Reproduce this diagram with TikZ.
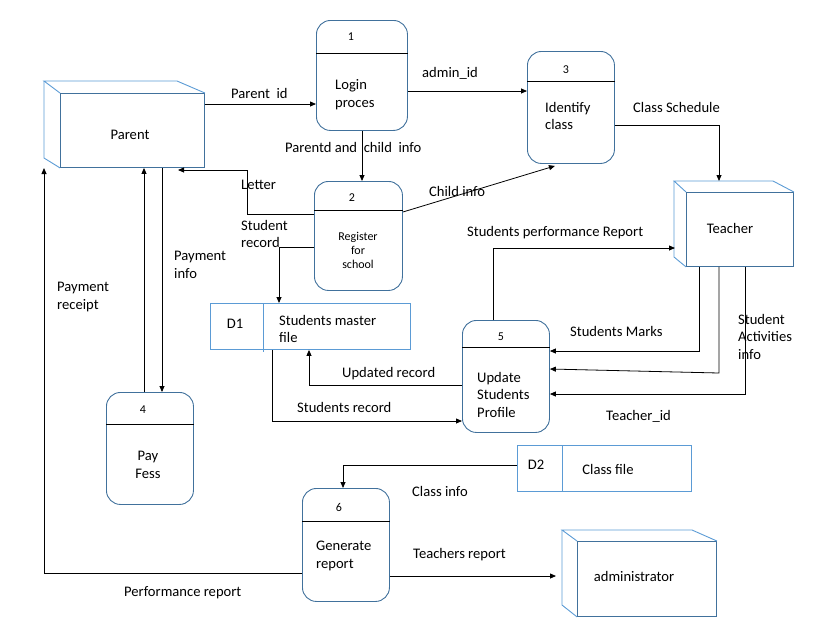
\documentclass[tikz,border=0pt]{standalone}
\usepackage{fontspec}
\setmainfont{Carlito}
\usetikzlibrary{arrows.meta}
\definecolor{pb}{HTML}{41719C}
\definecolor{lb}{HTML}{5B9BD5}
\begin{document}
\begin{tikzpicture}[x=1pt,y=-1pt,
  font=\fontsize{14.6}{17.8}\selectfont,
  proc/.style={draw=pb, rounded corners=14pt, anchor=north west, inner sep=0pt, line width=0.9pt},
  ent/.style={draw=pb, anchor=north west, inner sep=0pt, line width=0.9pt},
  back/.style={draw=lb, line width=0.9pt},
  store/.style={draw=lb, anchor=north west, inner sep=0pt, line width=0.9pt},
  divline/.style={draw=black, line width=0.8pt},
  flow/.style={draw=black, line width=0.8pt, -{Triangle[length=6pt,width=5pt]}},
  lbl/.style={anchor=west, inner sep=0pt, align=left, yshift=-2.5pt, execute at begin node={\strut}, execute at end node={\strut}},
  num/.style={inner sep=0pt, font=\fontsize{12}{14}\selectfont},
  small/.style={inner sep=0pt, align=center, font=\fontsize{12}{14}\selectfont}]
\useasboundingbox (0,0) rectangle (827,641);

% ---------- external entities ----------
\node[ent, minimum width=144pt, minimum height=74pt] (parent) at (60,93) {};
\node[inner sep=0pt] (parentt) at (130,135) {Parent};
\draw[back] (parent.north west) -- (44,81) -- (177,81) -- (parent.north east);
\draw[back] (44,81) -- (44,158) -- (parent.south west);

\node[ent, minimum width=107pt, minimum height=74pt] (teacher) at (686,192) {};
\node[inner sep=0pt] (teachert) at (730,228) {Teacher};
\draw[back] (teacher.north west) -- (674,181) -- (773,181) -- (teacher.north east);
\draw[back] (674,181) -- (674,257) -- (teacher.south west);

\node[ent, minimum width=139pt, minimum height=75pt] (admin) at (577,541) {};
\node[inner sep=0pt] (admint) at (634,576) {administrator};
\draw[back] (admin.north west) -- (562,530) -- (692,530) -- (admin.north east);
\draw[back] (562,530) -- (562,605) -- (admin.south west);

% ---------- processes ----------
\node[proc, minimum width=91pt, minimum height=110pt] (p1) at (316,20) {};
\draw[divline] (p1.west |- 0,53) -- (p1.east |- 0,53);
\node[num] (n1) at (351,37) {1};
\node[lbl] (t1) at (335,93.5) {Login\\proces};

\node[proc, minimum width=88pt, minimum height=109pt] (p2) at (314,181) {};
\draw[divline] (p2.west |- 0,210) -- (p2.east |- 0,210);
\node[num] (n2) at (352,198) {2};
\node[small] (t2) at (358,250) {Register\\for\\school};

\node[proc, minimum width=87pt, minimum height=112pt] (p3) at (527,51) {};
\draw[divline] (p3.west |- 0,81) -- (p3.east |- 0,81);
\node[num] (n3) at (566,70) {3};
\node[lbl] (t3) at (545,116) {Identify\\class};

\node[proc, minimum width=87pt, minimum height=112pt] (p4) at (106,392) {};
\draw[divline] (p4.west |- 0,424) -- (p4.east |- 0,424);
\node[num] (n4) at (143,410) {4};
\node[inner sep=0pt, align=center] (t4) at (148,465) {Pay\\Fess};

\node[proc, minimum width=87pt, minimum height=112pt] (p5) at (462,320) {};
\draw[divline] (p5.west |- 0,347) -- (p5.east |- 0,347);
\node[num] (n5) at (501,337) {5};
\node[lbl] (t5) at (477,395) {Update\\Students\\Profile};

\node[proc, minimum width=87pt, minimum height=113pt] (p6) at (302,488) {};
\draw[divline] (p6.west |- 0,521) -- (p6.east |- 0,521);
\node[num] (n6) at (339,507) {6};
\node[lbl] (t6) at (316,555) {Generate\\report};

% ---------- data stores ----------
\node[store, minimum width=200pt, minimum height=46pt] (d1) at (210,303) {};
\draw[draw=lb, line width=0.9pt] (263,303) -- (263,352);
\node[inner sep=0pt] (d1a) at (235,324) {D1};
\node[lbl] (d1b) at (279,329) {Students master\\file};

\node[store, minimum width=174pt, minimum height=46pt] (d2) at (517,445) {};
\draw[draw=lb, line width=0.9pt] (562,445) -- (562,491);
\node[inner sep=0pt] (d2a) at (536,465) {D2};
\node[inner sep=0pt] (d2b) at (608,469) {Class file};

% ---------- helper coordinates ----------
\coordinate (tt) at (719,181);
\coordinate (pl) at (178,170);
\coordinate (pr) at (44,168);
\coordinate (tl) at (675,248);
\coordinate (ad) at (556,576);

% ---------- flows ----------
\draw[flow] (parent.east |- 0,104) -- (p1.west |- 0,104);
\draw[flow] (p1.east |- 0,91) -- (p3.west |- 0,91);
\draw[flow] (p3.east |- 0,125) -- (719,125) -- (tt);
\draw[flow] (362,0 |- p1.south) -- (362,0 |- p2.north);
\draw[flow] (p2.east |- 0,212) -- ([xshift=-16pt,yshift=-2pt]p3.south);
\draw[flow] (p2.west |- 0,214) -- (247,214) -- (247,170) -- (pl);
\draw[flow] (p2.west |- 0,247) -- (279,247) -- (279,0 |- d1.north);
\draw[flow] (162,0 |- parent.south) -- (162,0 |- p4.north);
\draw[flow] (144,0 |- p4.north) -- (144,0 |- parent.south);
\draw[flow] (p6.west |- 0,573) -- (44,573) -- (pr);
\draw[flow] (493,0 |- p5.north) -- (493,248) -- (tl);
\draw[flow] (699,0 |- teacher.south) -- (699,351) -- (p5.east |- 0,351);
\draw[flow] (719,0 |- teacher.south) -- (719,373) -- (p5.east |- 0,369);
\draw[flow] (745,0 |- teacher.south) -- (745,394) -- (p5.east |- 0,394);
\draw[flow] (p5.west |- 0,385) -- (309,385) -- (309,0 |- d1.south);
\draw[flow] (272,0 |- d1.south) -- (272,421) -- (p5.west |- 0,421);
\draw[flow] (d2.west |- 0,465) -- (343,465) -- (343,0 |- p6.north);
\draw[flow] (p6.east |- 0,576) -- (ad);

% ---------- labels ----------
\node[lbl] (L1) at (231,92) {Parent\ \ id};
\node[lbl] (L2) at (422,71) {admin\_id};
\node[lbl] (L3) at (633,106) {Class Schedule};
\node[lbl] (L4) at (285,146) {Parentd and\ \ child\ \ info};
\node[lbl] (L5) at (241,183) {Letter};
\node[lbl] (L6) at (429,190) {Child info};
\node[lbl] (L7) at (241,234) {Student\\record};
\node[lbl] (L8) at (467,230) {Students performance Report};
\node[lbl] (L9) at (174,265) {Payment\\info};
\node[lbl] (L10) at (57,296) {Payment\\receipt};
\node[lbl] (L11) at (570,330) {Students Marks};
\node[lbl] (L12) at (738,337) {Student\\Activities\\info};
\node[lbl] (L13) at (342,371) {Updated record};
\node[lbl] (L14) at (297,406) {Students record};
\node[lbl] (L15) at (606,414) {Teacher\_id};
\node[lbl] (L16) at (412,490) {Class info};
\node[lbl] (L17) at (413,552) {Teachers report};
\node[lbl] (L18) at (124,590) {Performance report};
\end{tikzpicture}
\end{document}
